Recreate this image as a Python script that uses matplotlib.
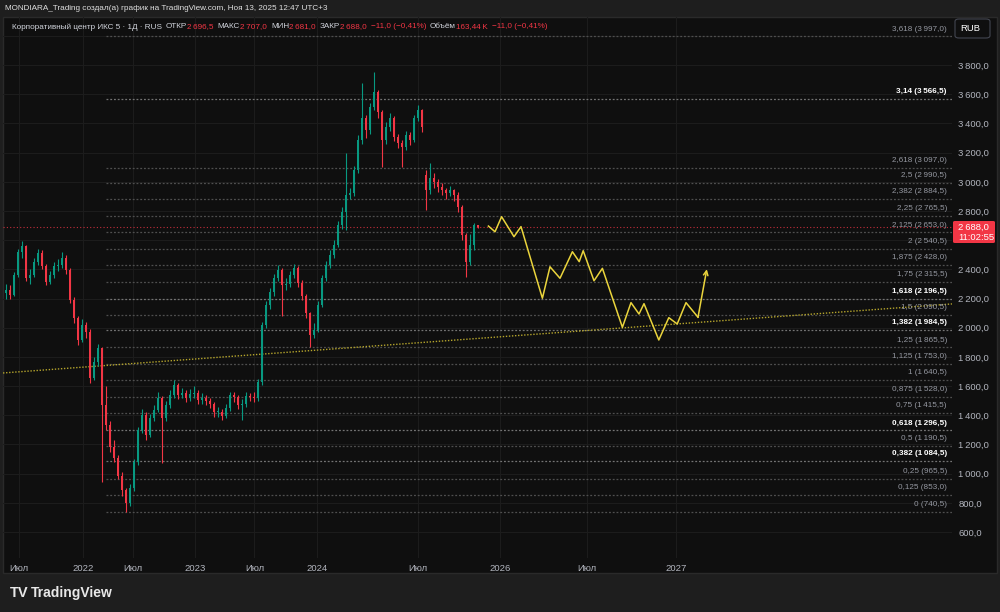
import numpy as np
import matplotlib
matplotlib.use("Agg")
import matplotlib.pyplot as plt
from matplotlib import font_manager
from matplotlib.patches import Rectangle, FancyBboxPatch

matplotlib.rcParams['font.family'] = ['Liberation Sans', 'DejaVu Sans']

_names = {f.name for f in font_manager.fontManager.ttflist}
if 'Liberation Sans Narrow' in _names:
    SMALL_FONT, SMALL_SIZE = ['Liberation Sans Narrow', 'DejaVu Sans'], 6.8
else:
    SMALL_FONT, SMALL_SIZE = ['Liberation Sans', 'DejaVu Sans'], 5.9

# ---------------------------------------------------------------------------
# data (bar index ~ one candle every few sessions)
# ---------------------------------------------------------------------------
opens = [2240, 2259, 2224, 2361, 2519, 2560, 2341, 2361, 2451, 2512,
         2423, 2314, 2361, 2423, 2430, 2478, 2396, 2190, 2067, 1916,
         2019, 1971, 1656, 1765, 1861, 1470, 1333, 1183, 1107, 984,
         888, 799, 902, 1080, 1299, 1402, 1265, 1381, 1436, 1518,
         1381, 1470, 1539, 1608, 1539, 1553, 1518, 1546, 1553, 1505,
         1518, 1498, 1477, 1422, 1422, 1395, 1450, 1539, 1525, 1470,
         1477, 1532, 1525, 1518, 1628, 2019, 2156, 2245, 2341, 2396,
         2293, 2300, 2361, 2409, 2307, 2218, 2101, 1950, 1985, 2156,
         2341, 2430, 2499, 2567, 2704, 2793, 2910, 2924, 3081, 3287,
         3438, 3355, 3513, 3616, 3479, 3287, 3376, 3438, 3307, 3266,
         3239, 3321, 3287, 3438, 3492, 3050, 2944, 3026, 2999, 2965,
         2944, 2924, 2944, 2910, 2828, 2636, 2451, 2567, 2705]
closes = [2259, 2224, 2361, 2519, 2560, 2341, 2361, 2451, 2512, 2423,
          2314, 2361, 2423, 2430, 2478, 2396, 2190, 2067, 1916, 2019,
          1971, 1656, 1765, 1861, 1470, 1333, 1183, 1107, 984, 888,
          799, 902, 1080, 1299, 1402, 1265, 1381, 1436, 1518, 1381,
          1470, 1539, 1608, 1539, 1553, 1518, 1546, 1553, 1505, 1518,
          1498, 1477, 1422, 1422, 1395, 1450, 1539, 1525, 1470, 1477,
          1532, 1525, 1518, 1628, 2019, 2156, 2245, 2341, 2396, 2293,
          2300, 2361, 2409, 2307, 2218, 2101, 1950, 1985, 2156, 2341,
          2430, 2499, 2567, 2704, 2793, 2910, 2924, 3081, 3287, 3438,
          3355, 3513, 3616, 3479, 3287, 3376, 3438, 3307, 3266, 3239,
          3321, 3287, 3438, 3492, 3376, 2944, 3026, 2999, 2965, 2944,
          2924, 2944, 2910, 2828, 2636, 2451, 2567, 2705, 2688]
highs = [2300, 2290, 2380, 2540, 2595, 2570, 2400, 2475, 2540, 2530,
         2440, 2390, 2450, 2470, 2520, 2500, 2410, 2210, 2080, 2060,
         2040, 1990, 1800, 1890, 1870, 1600, 1360, 1230, 1130, 1010,
         900, 930, 1100, 1320, 1440, 1420, 1410, 1470, 1560, 1530,
         1500, 1570, 1640, 1620, 1590, 1570, 1580, 1600, 1570, 1550,
         1540, 1520, 1490, 1460, 1440, 1480, 1560, 1560, 1540, 1510,
         1560, 1550, 1560, 1650, 2040, 2180, 2270, 2370, 2430, 2410,
         2340, 2390, 2440, 2420, 2330, 2230, 2110, 2030, 2180, 2360,
         2460, 2530, 2600, 2730, 2830, 3198, 2960, 3110, 3320, 3677,
         3460, 3540, 3753, 3630, 3490, 3410, 3470, 3450, 3330, 3290,
         3350, 3340, 3460, 3527, 3500, 3081, 3129, 3060, 3020, 2990,
         2960, 2970, 2950, 2930, 2840, 2650, 2640, 2720, 2707]
lows = [2200, 2195, 2215, 2350, 2480, 2320, 2300, 2350, 2430, 2400,
        2290, 2300, 2340, 2390, 2410, 2370, 2170, 2030, 1880, 1900,
        1930, 1620, 1640, 1740, 943, 1300, 1150, 1080, 960, 850,
        740, 780, 880, 1060, 1280, 1230, 1250, 1360, 1420, 1075,
        1360, 1450, 1520, 1510, 1520, 1490, 1500, 1520, 1480, 1480,
        1470, 1450, 1390, 1390, 1370, 1380, 1430, 1490, 1440, 1368,
        1460, 1500, 1490, 1500, 1610, 2000, 2130, 2220, 2320, 2080,
        2260, 2280, 2340, 2280, 2190, 2070, 1868, 1930, 1970, 2140,
        2320, 2410, 2480, 2550, 2680, 2670, 2880, 2900, 3060, 3260,
        3300, 3330, 3490, 3440, 3102, 3260, 3350, 3280, 3230, 3102,
        3220, 3250, 3270, 3420, 3340, 2807, 2920, 2960, 2930, 2910,
        2880, 2900, 2870, 2790, 2600, 2348, 2430, 2530, 2681]

# projected path drawn by the author
proj_x = [120.6, 122.25, 123.9, 127.0, 128.75, 134.1, 136.0, 138.5, 141.6,
          143.3, 144.3, 147.0, 149.1, 154.1, 156.25, 158.25, 159.5, 163.2,
          165.7, 167.8, 170.0, 173.0, 175.2]
proj_y = [2697, 2658, 2761, 2624, 2693, 2202, 2418, 2339, 2521, 2453, 2528,
          2322, 2407, 2003, 2172, 2094, 2165, 1916, 2069, 2026, 2172, 2072,
          2401]

# long trend line (two anchor points)
trend_x = [0.25, 236.4]
trend_y = [1692, 2163]

# fibonacci extension levels
fib_ratio = ['0', '0,125', '0,25', '0,382', '0,5', '0,618', '0,75', '0,875',
             '1', '1,125', '1,25', '1,382', '1,5', '1,618', '1,75', '1,875',
             '2', '2,125', '2,25', '2,382', '2,5', '2,618', '3,14', '3,618']
fib_price = [740.5, 853.0, 965.5, 1084.5, 1190.5, 1296.5, 1415.5, 1528.0,
             1640.5, 1753.0, 1865.5, 1984.5, 2090.5, 2196.5, 2315.5, 2428.0,
             2540.5, 2653.0, 2765.5, 2884.5, 2990.5, 3097.0, 3566.5, 3997.0]
fib_bold = ['0,382', '0,618', '1,382', '1,618', '3,14']

last_price = 2688.0
price_ticks = [600, 800, 1000, 1200, 1400, 1600, 1800, 2000, 2200, 2400,
               2600, 2800, 3000, 3200, 3400, 3600, 3800, 4000]
hidden_ticks = [2600, 4000]   # covered by the price / currency boxes
time_tick_pos = [3.25, 19.25, 31.75, 47.25, 62.1, 77.75, 103.0, 123.5,
                 145.25, 167.5]
time_tick_lbl = ['Июл', '2022', 'Июл', '2023', 'Июл', '2024', 'Июл', '2026',
                 'Июл', '2027']

UP, DOWN = '#089981', '#f23645'
BG_OUT, BG_IN = '#1e1e1e', '#0f0f0f'
GRID = '#1c1c1c'
TXT = '#b2b5be'


def fmt(p):
    return f"{p:,.1f}".replace(',', '\u2009').replace('.', ',')


W, H = 1000, 612
fig = plt.figure(figsize=(W / 100, H / 100), dpi=100, facecolor=BG_OUT)


def px(x, y):
    return x / W, 1 - y / H


# chart panel
fig.patches.append(Rectangle(px(3, 573), 994 / W, (573 - 17) / H,
                             transform=fig.transFigure, facecolor=BG_IN,
                             edgecolor='#2a2a2a', lw=1, zorder=-5))

ax = fig.add_axes([3 / W, 1 - 558 / H, 949 / W, (558 - 17) / H])
ax.set_facecolor('none')
ax.set_xlim(-0.75, 236.5)
ax.set_ylim(421.8, 4129.8)
for s in ax.spines.values():
    s.set_visible(False)

ax.yaxis.tick_right()
ax.set_yticks(price_ticks)
ax.set_yticklabels(['' if p in hidden_ticks else fmt(p) for p in price_ticks])
ax.set_xticks(time_tick_pos)
ax.set_xticklabels(time_tick_lbl)
ax.tick_params(axis='y', length=0, pad=4.5, colors=TXT, labelsize=6.8)
ax.tick_params(axis='x', length=0, pad=4, colors=TXT, labelsize=6.8)
ax.grid(True, color=GRID, lw=0.8)
ax.set_axisbelow(True)

# candles
idx = np.arange(len(closes))
o, c = np.array(opens), np.array(closes)
hi, lo = np.array(highs), np.array(lows)
col = np.where(c >= o, UP, DOWN)
ax.vlines(idx, lo, hi, colors=col, lw=0.8, zorder=3)
ax.bar(idx, np.maximum(np.abs(c - o), 6), bottom=np.minimum(o, c),
       width=0.6, color=col, lw=0, zorder=3)

# fib levels
for r, p in zip(fib_ratio, fib_price):
    bold = r in fib_bold
    ax.hlines(p, 25, 236.5, colors='#747474' if bold else '#4f4f4f',
              lw=0.9, linestyles=(0, (1.5, 1.5)), zorder=2)
    ax.annotate(f"{r} ({fmt(p)})", xy=(235.25, p), xytext=(0, 5.3),
                textcoords='offset points', ha='right', va='center',
                family=SMALL_FONT, fontsize=SMALL_SIZE,
                color='#ffffff' if bold else '#9598a1',
                fontweight='bold' if bold else 'normal', zorder=4)

# trend line
ax.axline((trend_x[0], trend_y[0]), (trend_x[1], trend_y[1]),
          color='#b5a52c', lw=1.0, ls=(0, (1, 1.2)), zorder=2)

# current price line
ax.axhline(last_price, color=DOWN, lw=0.8, ls=(0, (1, 2)), alpha=0.8, zorder=2)

# projected zigzag
ax.plot(proj_x[:-1], proj_y[:-1], color='#ead43c', lw=1.1, zorder=5)
ax.annotate('', xy=(proj_x[-1], proj_y[-1]), xytext=(proj_x[-2], proj_y[-2]),
            arrowprops=dict(arrowstyle='->', color='#ead43c', lw=1.1,
                            shrinkA=0, shrinkB=0, mutation_scale=8),
            zorder=5)

# price label box on axis
fig.patches.append(FancyBboxPatch(px(953, 243), 42 / W, 22 / H,
                                  boxstyle='round,pad=0,rounding_size=0.002',
                                  transform=fig.transFigure, facecolor=DOWN,
                                  edgecolor='none', zorder=6))
fig.text(*px(958, 227), fmt(last_price), color='white', fontsize=6.8,
         va='center', ha='left', zorder=7)
fig.text(*px(958, 238), '11:02:55', color='white', fontsize=6.8,
         va='center', ha='left', zorder=7)

# currency box
fig.patches.append(FancyBboxPatch(px(955, 38), 35 / W, 19 / H,
                                  boxstyle='round,pad=0,rounding_size=0.004',
                                  transform=fig.transFigure, facecolor=BG_IN,
                                  edgecolor='#434651', lw=0.8, zorder=6))
fig.text(*px(960, 28.5), 'RUB', color='white', fontsize=6.8, va='center',
         ha='left', zorder=7)

# header texts
fig.text(*px(5, 8), 'MONDIARA_Trading создал(а) график на TradingView.com, '
         'Ноя 13, 2025 12:47 UTC+3', color='#e0e0e0', family=SMALL_FONT,
         fontsize=SMALL_SIZE, va='center', ha='left')

renderer = fig.canvas.get_renderer()
legend = [('Корпоративный центр ИКС 5 · 1Д · RUS', '#d1d4dc', 4),
          ('ОТКР', '#d1d4dc', 0), ('2\u2009696,5', DOWN, 4),
          ('МАКС', '#d1d4dc', 0), ('2\u2009707,0', DOWN, 4),
          ('МИН', '#d1d4dc', 0), ('2\u2009681,0', DOWN, 4),
          ('ЗАКР', '#d1d4dc', 0), ('2\u2009688,0', DOWN, 4),
          ('\u221211,0 (\u22120,41%)', DOWN, 4),
          ('Объём', '#d1d4dc', 0), ('163,44\u2009K', DOWN, 4),
          ('\u221211,0 (\u22120,41%)', DOWN, 0)]
x0 = 12
for s, cc, gap in legend:
    t = fig.text(*px(x0, 27), s, color=cc, family=SMALL_FONT,
                 fontsize=SMALL_SIZE, va='center', ha='left')
    x0 += t.get_window_extent(renderer).width + gap

# logo
fig.text(*px(10, 593), 'TV', color='#e8e8e8', fontsize=10.5,
         fontweight='bold', va='center', ha='left')
fig.text(*px(31, 593), 'TradingView', color='#e8e8e8', fontsize=10,
         fontweight='bold', va='center', ha='left')

fig.savefig('out.png', dpi=100, facecolor=BG_OUT)
